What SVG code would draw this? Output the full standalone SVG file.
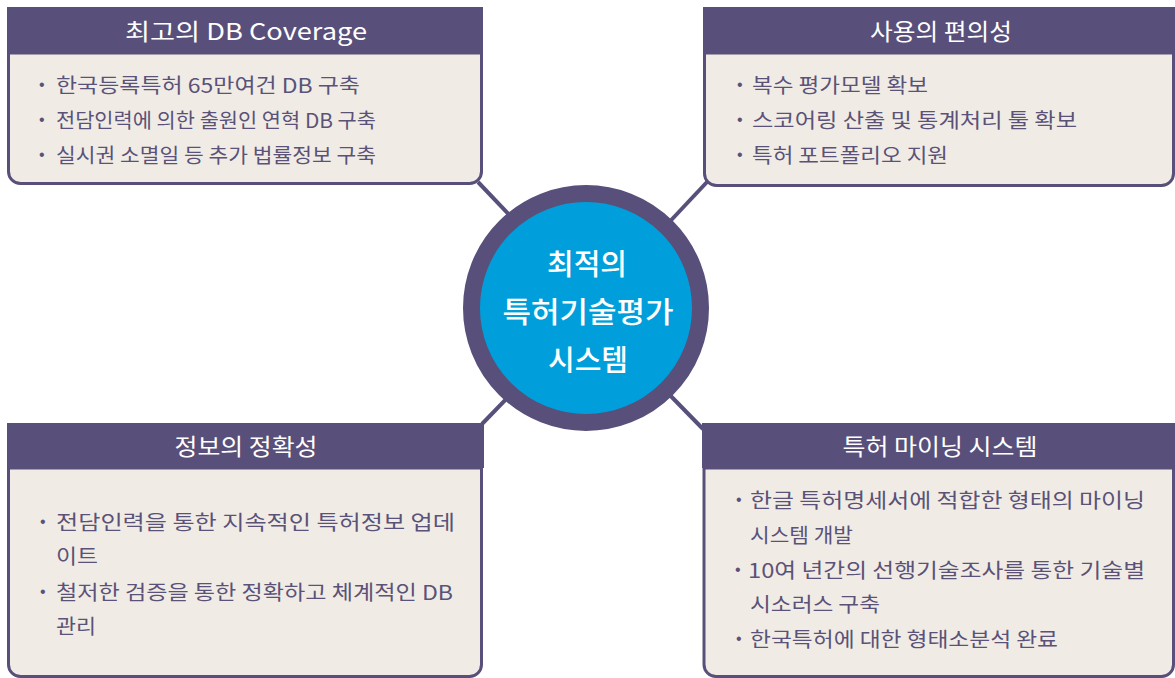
<svg xmlns="http://www.w3.org/2000/svg" width="1175" height="678" viewBox="0 0 1175 678">
<style>
.hdr{fill:#58507A}
.body{fill:#F0ECE5;stroke:#58507A;stroke-width:3}
.title{font-family:"Noto Sans CJK KR","Liberation Sans",sans-serif;font-size:23px;fill:#FFFFFF;text-anchor:middle}
.txt{font-family:"Noto Sans CJK KR","Liberation Sans",sans-serif;font-size:20px;fill:#5A5278}
.bul{font-family:"Liberation Sans",sans-serif;font-size:16px;fill:#5A5278}
.ctr{font-family:"Noto Sans CJK KR","Liberation Sans",sans-serif;font-size:29px;font-weight:500;fill:#FFFFFF;text-anchor:middle}
.conn{stroke:#58507A;stroke-width:4;fill:none}
</style>
<rect width="1175" height="678" fill="#FFFFFF"/>
<g id="connectors">
<line class="conn" x1="478" y1="182" x2="520" y2="226"/>
<line class="conn" x1="707" y1="182" x2="660" y2="232"/>
<line class="conn" x1="482" y1="424" x2="515" y2="390"/>
<line class="conn" x1="703" y1="429" x2="660" y2="385"/>
</g>
<g id="node-center">
<circle cx="586" cy="308" r="114.5" fill="#009FDB" stroke="#58507A" stroke-width="17"/>
<text class="ctr" x="587" y="275">최적의</text>
<text class="ctr" x="588" y="323" textLength="171" lengthAdjust="spacingAndGlyphs">특허기술평가</text>
<text class="ctr" x="588" y="371">시스템</text>
</g>
<g id="node-coverage">
<path class="body" d="M8.5,53 V171.5 A12,12 0 0 0 20.5,183.5 H469.5 A12,12 0 0 0 481.5,171.5 V53 Z"/>
<rect class="hdr" x="7" y="7" width="476" height="46"/>
<text class="title" x="246" y="40" textLength="242" lengthAdjust="spacingAndGlyphs">최고의 DB Coverage</text>
<text class="bul" x="39" y="90">•</text>
<text class="txt" x="56" y="93" textLength="304" lengthAdjust="spacingAndGlyphs">한국등록특허  65만여건 DB 구축</text>
<text class="bul" x="39" y="125">•</text>
<text class="txt" x="56" y="128" textLength="320" lengthAdjust="spacingAndGlyphs">전담인력에 의한 출원인 연혁 DB 구축</text>
<text class="bul" x="39" y="160">•</text>
<text class="txt" x="56" y="163" textLength="320" lengthAdjust="spacingAndGlyphs">실시권 소멸일 등 추가 법률정보 구축</text>
</g>
<g id="node-usability">
<path class="body" d="M704.5,53 V173.5 A12,12 0 0 0 716.5,185.5 H1161.5 A12,12 0 0 0 1173.5,173.5 V53 Z"/>
<rect class="hdr" x="703" y="7" width="472" height="46"/>
<text class="title" x="941" y="40" textLength="142" lengthAdjust="spacingAndGlyphs">사용의 편의성</text>
<text class="bul" x="737" y="90">•</text>
<text class="txt" x="752" y="93" textLength="176" lengthAdjust="spacingAndGlyphs">복수 평가모델 확보</text>
<text class="bul" x="737" y="125">•</text>
<text class="txt" x="752" y="128" textLength="325" lengthAdjust="spacingAndGlyphs">스코어링 산출 및 통계처리 툴 확보</text>
<text class="bul" x="737" y="160">•</text>
<text class="txt" x="752" y="163" textLength="196" lengthAdjust="spacingAndGlyphs">특허 포트폴리오 지원</text>
</g>
<g id="node-accuracy">
<path class="body" d="M8.5,468 V664.5 A12,12 0 0 0 20.5,676.5 H469.5 A12,12 0 0 0 481.5,664.5 V468 Z"/>
<rect class="hdr" x="7" y="423" width="477" height="45"/>
<text class="title" x="246" y="455" textLength="143" lengthAdjust="spacingAndGlyphs">정보의 정확성</text>
<text class="bul" x="40" y="527">•</text>
<text class="txt" x="56" y="530" textLength="399" lengthAdjust="spacingAndGlyphs">전담인력을 통한 지속적인 특허정보 업데</text>
<text class="txt" x="56" y="564" textLength="42" lengthAdjust="spacingAndGlyphs">이트</text>
<text class="bul" x="40" y="597">•</text>
<text class="txt" x="56" y="600" textLength="397" lengthAdjust="spacingAndGlyphs">철저한 검증을 통한 정확하고 체계적인 DB</text>
<text class="txt" x="56" y="634" textLength="40" lengthAdjust="spacingAndGlyphs">관리</text>
</g>
<g id="node-mining">
<path class="body" d="M704,468 V664.5 A12,12 0 0 0 716,676.5 H1161.5 A12,12 0 0 0 1173.5,664.5 V468 Z"/>
<rect class="hdr" x="702" y="423" width="473" height="45"/>
<text class="title" x="940" y="455" textLength="195" lengthAdjust="spacingAndGlyphs">특허 마이닝 시스템</text>
<text class="bul" x="736" y="505">•</text>
<text class="txt" x="750" y="508" textLength="395" lengthAdjust="spacingAndGlyphs">한글 특허명세서에 적합한 형태의 마이닝</text>
<text class="txt" x="750" y="543" textLength="103" lengthAdjust="spacingAndGlyphs">시스템 개발</text>
<text class="bul" x="735" y="575">•</text>
<text class="txt" x="748" y="578" textLength="397" lengthAdjust="spacingAndGlyphs">10여 년간의 선행기술조사를 통한 기술별</text>
<text class="txt" x="750" y="612" textLength="130" lengthAdjust="spacingAndGlyphs">시소러스 구축</text>
<text class="bul" x="736" y="644">•</text>
<text class="txt" x="750" y="647" textLength="308" lengthAdjust="spacingAndGlyphs">한국특허에 대한 형태소분석 완료</text>
</g>
</svg>
